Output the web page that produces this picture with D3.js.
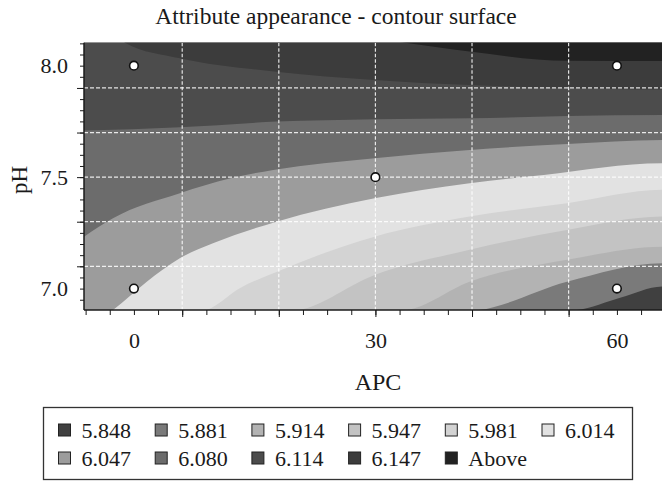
<!DOCTYPE html>
<html lang="en">
<head>
  <meta charset="utf-8">
  <title>Attribute appearance - contour surface</title>
  <script src="https://d3js.org/d3.v7.min.js"></script>
  <style>
    body { margin: 0; background: #fff; }
    svg text { font-family: 'Liberation Serif', 'DejaVu Serif', serif; fill: #1a1a1a; }
    .axis path, .axis line { stroke: #1a1a1a; }
  </style>
</head>
<body>
<svg id="chart" width="662" height="481"></svg>
<script>
// ---- data ----
const apcLabels = [0, 30, 60];
const phLabels = [7.0, 7.5, 8.0];
const apcGrid = [6, 18, 30, 42, 54];
const phGrid = [7.1, 7.3, 7.5, 7.7, 7.9];
const apcMinor = d3.range(-6, 66, 3);
const phMinor = d3.range(6.95, 8.11, 0.05).map(v => +v.toFixed(2));

const levels = ["5.848", "5.881", "5.914", "5.947", "5.981", "6.014",
                "6.047", "6.080", "6.114", "6.147", "Above"];

// contour boundaries [APC, pH], from the lowest level upward
const edge5848 = [[55.0, 6.904], [60.5, 6.96], [65.7, 7.009]];
const edge5881 = [[42.8, 6.904], [53.8, 7.031], [65.7, 7.114]];
const edge5914 = [[33.9, 6.904], [41.7, 7.031], [53.8, 7.129], [65.7, 7.188]];
const edge5947 = [[20.6, 6.904], [29.9, 7.061], [41.7, 7.174], [53.8, 7.263], [65.7, 7.323]];
const edge5981 = [[9.05, 6.904], [13.2, 7.003], [17.7, 7.075], [29.9, 7.233], [41.7, 7.323],
                  [53.8, 7.383], [65.7, 7.443]];
const edge6014 = [[-2.6, 6.904], [1.6, 7.031], [5.7, 7.136], [9.9, 7.204], [17.7, 7.300],
                  [29.9, 7.405], [41.7, 7.473], [50.9, 7.510], [65.7, 7.562]];
const edge6047 = [[-6.2, 7.233], [-2.6, 7.316], [5.7, 7.428], [12.0, 7.495], [17.3, 7.532],
                  [29.9, 7.585], [41.7, 7.622], [53.8, 7.649], [65.7, 7.667]];
const edge6080 = [[-6.2, 7.709], [5.7, 7.724], [17.7, 7.749], [29.9, 7.760], [41.7, 7.764],
                  [53.8, 7.774], [65.7, 7.779]];
const edge6114 = [[-1.1, 8.103], [5.7, 8.033], [17.7, 7.973], [29.9, 7.936], [41.7, 7.913],
                  [53.8, 7.900], [65.7, 7.893]];
const edge6147 = [[33.7, 8.103], [41.7, 8.063], [53.8, 8.022], [65.7, 8.021]];
const edges = [edge5848, edge5881, edge5914, edge5947, edge5981, edge6014,
               edge6047, edge6080, edge6114, edge6147];

const designPoints = [[0, 7.0], [0, 8.0], [30, 7.5], [60, 7.0], [60, 8.0]];

// grey shade of each band (same order as levels)
const bandColors = ["#404040", "#7a7a7a", "#b3b3b3", "#c3c3c3", "#d3d3d3", "#e2e2e2",
                    "#9c9c9c", "#6c6c6c", "#4c4c4c", "#3c3c3c", "#222222"];

// ---- drawing ----
const svg = d3.select("#chart");
const pLeft = 84, pRight = 662, pTop = 42.7, pBottom = 310;

const x = d3.scaleLinear().domain([-6.2, 65.6]).range([pLeft, pRight]);
const y = d3.scaleLinear().domain([6.904, 8.103]).range([pBottom, pTop]);

svg.append("defs").append("clipPath").attr("id", "plotclip")
  .append("rect").attr("x", pLeft).attr("y", pTop)
  .attr("width", pRight - pLeft).attr("height", pBottom - pTop);

const plot = svg.append("g").attr("clip-path", "url(#plotclip)");

plot.append("rect").attr("x", pLeft).attr("y", pTop)
  .attr("width", pRight - pLeft).attr("height", pBottom - pTop)
  .attr("fill", bandColors[0]);

const area = d3.area()
  .x(d => x(d[0]))
  .y0(pTop - 10)
  .y1(d => y(d[1]))
  .curve(d3.curveMonotoneX);

edges.forEach((e, i) => {
  let pts = e.slice();
  const x0 = x.domain()[0] - 1, x1 = x.domain()[1] + 1;
  if (pts[0][0] > x.domain()[0]) {
    // boundary enters from the bottom or the top edge
    const below = pts[0][1] <= y.domain()[0] + 0.01;
    pts.unshift([x0, below ? 6.8 : 8.3]);
  }
  pts.push([x1, pts[pts.length - 1][1]]);
  plot.append("path").attr("d", area(pts)).attr("fill", bandColors[i + 1]);
});

// dashed grid
plot.selectAll(".vgrid").data(apcGrid).join("line")
  .attr("x1", d => x(d)).attr("x2", d => x(d))
  .attr("y1", pTop).attr("y2", pBottom)
  .attr("stroke", "#fff").attr("stroke-opacity", 0.85)
  .attr("stroke-width", 1.2).attr("stroke-dasharray", "3.5,2");
plot.selectAll(".hgrid").data(phGrid).join("line")
  .attr("x1", pLeft).attr("x2", pRight)
  .attr("y1", d => y(d)).attr("y2", d => y(d))
  .attr("stroke", "#fff").attr("stroke-opacity", 0.85)
  .attr("stroke-width", 1.2).attr("stroke-dasharray", "4,2");

// design points
plot.selectAll(".pt").data(designPoints).join("circle")
  .attr("cx", d => x(d[0])).attr("cy", d => y(d[1])).attr("r", 4.3)
  .attr("fill", "#fff").attr("stroke", "#111").attr("stroke-width", 1.6);

// axes
function axisG(axis, tx, ty) {
  const g = svg.append("g").attr("class", "axis")
    .attr("transform", `translate(${tx},${ty})`).call(axis);
  g.select(".domain").remove();
  return g;
}
axisG(d3.axisBottom(x).tickValues(apcMinor).tickSize(5).tickFormat(""), 0, pBottom);
axisG(d3.axisBottom(x).tickValues(apcGrid).tickSize(7).tickFormat(""), 0, pBottom);
const xl = axisG(d3.axisBottom(x).tickValues(apcLabels).tickSize(0).tickPadding(22)
  .tickFormat(d3.format("d")), 0, pBottom);
xl.selectAll("text").attr("font-size", 22);

axisG(d3.axisLeft(y).tickValues(phMinor).tickSize(4).tickFormat(""), pLeft, 0);
axisG(d3.axisLeft(y).tickValues(phGrid).tickSize(7).tickFormat(""), pLeft, 0);
const yl = axisG(d3.axisLeft(y).tickValues(phLabels).tickSize(0).tickPadding(16)
  .tickFormat(d3.format(".1f")), pLeft, 0);
yl.selectAll("text").attr("font-size", 22);

svg.append("line").attr("x1", pLeft).attr("x2", pRight).attr("y1", pBottom).attr("y2", pBottom)
  .attr("stroke", "#1a1a1a").attr("stroke-width", 1.5);
svg.append("line").attr("x1", pLeft).attr("x2", pLeft).attr("y1", pTop).attr("y2", pBottom)
  .attr("stroke", "#1a1a1a").attr("stroke-width", 1.5);

// titles
svg.append("text").attr("x", 336).attr("y", 24).attr("text-anchor", "middle")
  .attr("font-size", 23.5).text("Attribute appearance - contour surface");
svg.append("text").attr("x", 378).attr("y", 390).attr("text-anchor", "middle")
  .attr("font-size", 24).text("APC");
svg.append("text").attr("transform", "translate(27,180) rotate(-90)")
  .attr("text-anchor", "middle").attr("font-size", 23).text("pH");

// legend
svg.append("rect").attr("x", 43.5).attr("y", 407.5).attr("width", 589).attr("height", 72)
  .attr("fill", "#fff").attr("stroke", "#333").attr("stroke-width", 1.3);

const leg = svg.selectAll(".leg").data(levels).join("g")
  .attr("transform", (d, i) => `translate(${58.5 + (i % 6) * 96.7},${i < 6 ? 430 : 458})`);
leg.append("rect").attr("x", 0).attr("y", -6).attr("width", 12).attr("height", 12)
  .attr("fill", (d, i) => bandColors[i]).attr("stroke", "#222").attr("stroke-width", 1);
leg.append("text").attr("x", 23).attr("y", 7.5).attr("font-size", 22).text(d => d);
</script>
</body>
</html>
